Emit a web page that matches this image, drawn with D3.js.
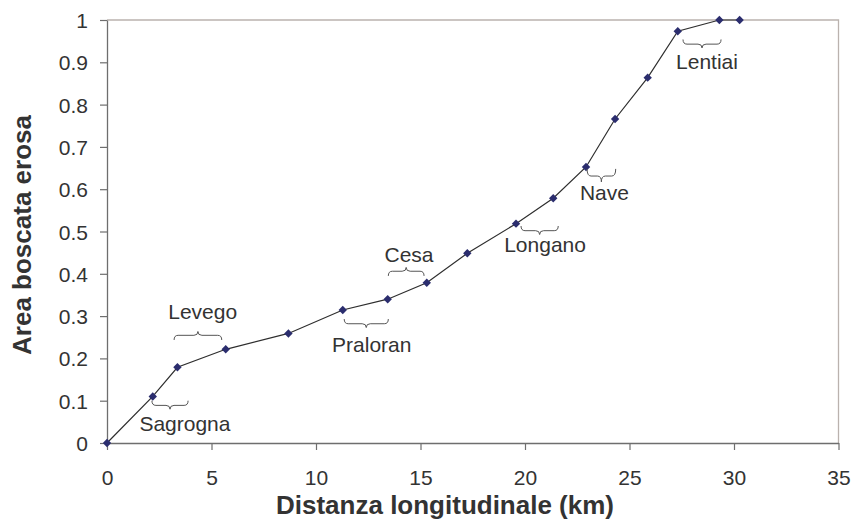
<!DOCTYPE html>
<html><head><meta charset="utf-8">
<script src="https://cdn.jsdelivr.net/npm/d3@7"></script>
<style>
body{margin:0;background:#fff;}
text{font-family:"Liberation Sans",Arial,Helvetica,sans-serif;}
</style></head>
<body><svg id="c" width="854" height="521"></svg>
<script>
// Data
const distanceKm = [0, 2.19, 3.37, 5.68, 8.68, 11.28, 13.43, 15.3, 17.24, 19.57, 21.35, 22.92, 24.31, 25.87, 27.31, 29.3, 30.27];
const erodedArea = [0, 0.110, 0.179, 0.2215, 0.259, 0.3144, 0.340, 0.379, 0.4485, 0.5185, 0.5785, 0.6525, 0.766, 0.8637, 0.9733, 1.0, 1.0];
const xTicks = [0, 5, 10, 15, 20, 25, 30, 35];
const yTicks = [0, 0.1, 0.2, 0.3, 0.4, 0.5, 0.6, 0.7, 0.8, 0.9, 1];
const yTickLabels = ["0", "0.1", "0.2", "0.3", "0.4", "0.5", "0.6", "0.7", "0.8", "0.9", "1"];
const placeNames = ["Sagrogna", "Levego", "Praloran", "Cesa", "Longano", "Nave", "Lentiai"];
const braceFrom = [2.15, 3.21, 11.35, 13.46, 19.81, 22.97, 27.56];
const braceTo = [3.88, 5.49, 13.46, 15.17, 21.59, 24.34, 29.38];
const braceLevel = [0.100, 0.2435, 0.293, 0.395, 0.513, 0.648, 0.954];
const bracePointsDown = [true, false, true, false, true, true, true];
const labelX = [3.73, 4.58, 12.67, 14.45, 20.96, 23.8, 28.71];
const labelY = [0.028, 0.293, 0.216, 0.4286, 0.4515, 0.574, 0.884];
const xTitle = "Distanza longitudinale (km)";
const yTitle = "Area boscata erosa";

const svg = d3.select("#c");
const L = 107, R = 838.5, T = 20, B = 443;
const x = d3.scaleLinear().domain([0, 35]).range([L, R]);
const y = d3.scaleLinear().domain([0, 1]).range([B, T]);

// plot border (top/right)
svg.append("path").attr("d", `M${L},${T}H${R}V${B}`).attr("fill", "none").attr("stroke", "#bab2ae").attr("stroke-width", 1.3);

// axes
const xAxis = svg.append("g").attr("transform", `translate(0,${B})`)
  .call(d3.axisBottom(x).tickValues(xTicks).tickSize(7).tickSizeOuter(0).tickFormat(d3.format("d")));
const yAxis = svg.append("g").attr("transform", `translate(${L},0)`)
  .call(d3.axisLeft(y).tickValues(yTicks).tickSize(7).tickSizeOuter(0).tickFormat((d, i) => yTickLabels[i]));
[xAxis, yAxis].forEach(g => {
  g.select(".domain").attr("stroke", "#6e6e6e").attr("stroke-width", 1.3);
  g.selectAll(".tick line").attr("stroke", "#6e6e6e").attr("stroke-width", 1.2);
  g.selectAll(".tick text").attr("fill", "#333").style("font-size", "21px").style("font-family", "'Liberation Sans',Arial,sans-serif");
});
xAxis.selectAll(".tick text").attr("y", 0).attr("dy", 0).attr("transform", "translate(0,42)");
yAxis.selectAll(".tick text").attr("x", -19).attr("dy", "0.36em");

// line
const line = d3.line().x((d, i) => x(distanceKm[i])).y((d, i) => y(erodedArea[i]));
svg.append("path").datum(erodedArea).attr("d", line).attr("fill", "none").attr("stroke", "#2e2e2e").attr("stroke-width", 1.2);

// markers (square diamonds)
const dm = 4.2;
svg.append("g").selectAll("path").data(erodedArea).join("path")
  .attr("transform", (d, i) => `translate(${x(distanceKm[i])},${y(d)})`)
  .attr("d", `M0,${-dm}L${dm},0L0,${dm}L${-dm},0Z`)
  .attr("fill", "#2b2d6e");

// braces
function bracePath(x1, x2, y0, down, h) {
  const s = down ? 1 : -1;
  const xm = (x1 + x2) / 2, ym = y0 + s * h * 0.55, yp = y0 + s * h, r = 4;
  return `M${x1},${y0} Q${x1},${ym} ${x1 + r},${ym} L${xm - r},${ym} Q${xm},${ym} ${xm},${yp} ` +
         `Q${xm},${ym} ${xm + r},${ym} L${x2 - r},${ym} Q${x2},${ym} ${x2},${y0}`;
}
const bg = svg.append("g");
placeNames.forEach((name, i) => {
  const h = name === "Nave" ? 13 : 8.5;
  bg.append("path").attr("d", bracePath(x(braceFrom[i]), x(braceTo[i]), y(braceLevel[i]), bracePointsDown[i], h))
    .attr("fill", "none").attr("stroke", "#555").attr("stroke-width", 1);
  bg.append("text").attr("x", x(labelX[i])).attr("y", y(labelY[i])).attr("text-anchor", "middle")
    .attr("fill", "#333").style("font-size", "21px").text(name);
});

// titles
svg.append("text").attr("x", 445).attr("y", 514).attr("text-anchor", "middle")
  .attr("fill", "#333").style("font-size", "26px").style("font-weight", "bold").text(xTitle);
svg.append("text").attr("transform", "translate(31,235) rotate(-90)").attr("text-anchor", "middle")
  .attr("fill", "#333").style("font-size", "26px").style("font-weight", "bold").text(yTitle);
</script></body></html>
